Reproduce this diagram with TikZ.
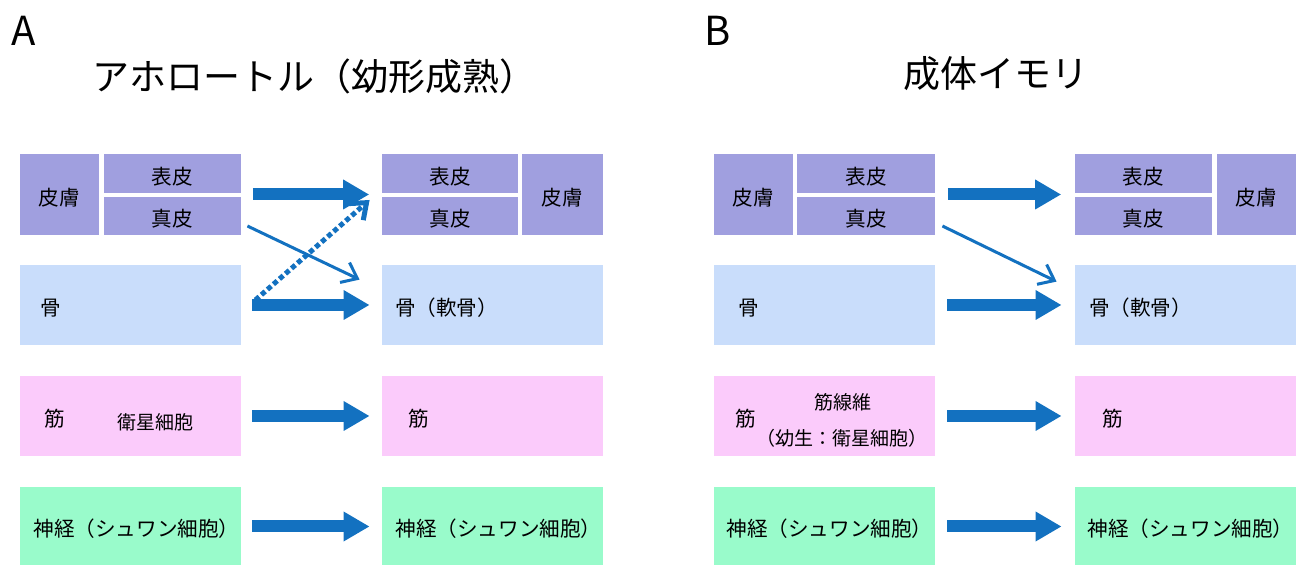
\documentclass[tikz,border=0pt]{standalone}
\usepackage{fontspec}
\setmainfont{Noto Sans CJK JP}
\usetikzlibrary{arrows.meta,fit,calc}
\definecolor{skinc}{HTML}{A09FDF}
\definecolor{bonec}{HTML}{C9DDFB}
\definecolor{muscc}{HTML}{FBCBFB}
\definecolor{nervc}{HTML}{99FBCB}
\definecolor{arrc}{HTML}{1371C0}
\begin{document}
\begin{tikzpicture}[x=0.5pt,y=-0.5pt,
  box/.style={inner sep=0pt, draw=none},
  lbl/.style={inner sep=0pt, font=\fontsize{10.3pt}{12pt}\selectfont},
  small/.style={inner sep=0pt, font=\fontsize{9.5pt}{11pt}\selectfont},
  ttl/.style={inner sep=0pt, font=\fontsize{18.5pt}{21pt}\selectfont},
  letter/.style={inner sep=0pt, font=\fontsize{20pt}{23pt}\selectfont},
  grp/.style={inner sep=0pt, draw=none},
  fat/.style={draw=arrc, line width=6pt, -{Triangle[length=13pt,width=14pt]}},
  thin/.style={draw=arrc, line width=1.5pt, -{Straight Barb[length=7pt,width=11pt]}},
  dots/.style={draw=arrc, line width=2.5pt, dash pattern=on 2.5pt off 1.5pt, -{Straight Barb[length=7pt,width=11pt]}}
]
\useasboundingbox (0,0) rectangle (1301,565);

% ---------- Panel A ----------
\node[letter] (A) at (24,31) {A};
\node[ttl] (titleA) at (314,76) {アホロートル（幼形成熟）};

% left column
\node[box, fill=skinc, fit={(20,154)(99,235)}] (AskinL) {};
\node[box, fill=skinc, fit={(104,154)(241,193)}] (AepiL) {};
\node[box, fill=skinc, fit={(104,197)(241,235)}] (AderL) {};
\node[grp, fit=(AskinL)(AepiL)(AderL)] (Arow1L) {};
\node[box, fill=bonec, fit={(20,265)(241,345)}] (AboneL) {};
\node[box, fill=muscc, fit={(20,376)(241,456)}] (AmusL) {};
\node[box, fill=nervc, fit={(20,487)(241,566)}] (AnerL) {};
\node[lbl] (AskinLt) at ($(AskinL.center)+(0,3)$) {皮膚};
\node[lbl] (AepiLt) at ($(AepiL.center)+(0,3)$) {表皮};
\node[lbl] (AderLt) at ($(AderL.center)+(0,3)$) {真皮};
\node[lbl] (AnerLt) at ($(AnerL.center)+(6,2)$) {神経（シュワン細胞）};
\node[lbl, anchor=west] (AboneLt) at ($(AboneL.west)+(20,3)$) {骨};
\node[lbl, anchor=west] (AmusLt) at ($(AmusL.west)+(24,3)$) {筋};
\node[small] (AsatL) at (155,422) {衛星細胞};

% right column
\node[box, fill=skinc, fit={(382,154)(518,193)}] (AepiR) {};
\node[box, fill=skinc, fit={(382,197)(518,235)}] (AderR) {};
\node[box, fill=skinc, fit={(522,154)(603,235)}] (AskinR) {};
\node[grp, fit=(AskinR)(AepiR)(AderR)] (Arow1R) {};
\node[box, fill=bonec, fit={(382,265)(603,345)}] (AboneR) {};
\node[box, fill=muscc, fit={(382,376)(603,456)}] (AmusR) {};
\node[box, fill=nervc, fit={(382,487)(603,566)}] (AnerR) {};
\node[lbl] (AskinRt) at ($(AskinR.center)+(0,3)$) {皮膚};
\node[lbl] (AepiRt) at ($(AepiR.center)+(0,3)$) {表皮};
\node[lbl] (AderRt) at ($(AderR.center)+(0,3)$) {真皮};
\node[lbl] (AnerRt) at ($(AnerR.center)+(6,2)$) {神経（シュワン細胞）};
\node[lbl, anchor=west] (AboneRt) at ($(AboneR.west)+(13,3)$) {骨（軟骨）};
\node[lbl, anchor=west] (AmusRt) at ($(AmusR.west)+(26,3)$) {筋};

% arrows A
\draw[fat] ($(Arow1L.east)+(11,0)$) -- ($(Arow1R.west)+(-12,0)$);
\draw[fat] ($(AboneL.east)+(11,0)$) -- ($(AboneR.west)+(-12,0)$);
\draw[fat] ($(AmusL.east)+(11,0)$) -- ($(AmusR.west)+(-12,0)$);
\draw[fat] ($(AnerL.east)+(11,0)$) -- ($(AnerR.west)+(-12,0)$);
\draw[thin] ($(AderL.east)+(6,10)$) -- ($(AboneR.north west)+(-22,15)$);
\draw[dots] ($(AboneL.east)+(14,-5)$) -- ($(AderR.west)+(-12,-16)$);

% ---------- Panel B ----------
\node[letter] (B) at (718,31) {B};
\node[ttl] (titleB) at (996,74) {成体イモリ};

% left column
\node[box, fill=skinc, fit={(714,154)(793,235)}] (BskinL) {};
\node[box, fill=skinc, fit={(797,154)(935,193)}] (BepiL) {};
\node[box, fill=skinc, fit={(797,197)(935,235)}] (BderL) {};
\node[grp, fit=(BskinL)(BepiL)(BderL)] (Brow1L) {};
\node[box, fill=bonec, fit={(714,265)(935,345)}] (BboneL) {};
\node[box, fill=muscc, fit={(714,376)(935,456)}] (BmusL) {};
\node[box, fill=nervc, fit={(714,487)(935,566)}] (BnerL) {};
\node[lbl] (BskinLt) at ($(BskinL.center)+(0,3)$) {皮膚};
\node[lbl] (BepiLt) at ($(BepiL.center)+(0,3)$) {表皮};
\node[lbl] (BderLt) at ($(BderL.center)+(0,3)$) {真皮};
\node[lbl] (BnerLt) at ($(BnerL.center)+(5,2)$) {神経（シュワン細胞）};
\node[lbl, anchor=west] (BboneLt) at ($(BboneL.west)+(24,3)$) {骨};
\node[lbl, anchor=west] (BmusLt) at ($(BmusL.west)+(21,3)$) {筋};
\node[small] (BfibL) at (843,402) {筋線維};
\node[small] (BlarL) at (842,438) {（幼生：衛星細胞）};

% right column
\node[box, fill=skinc, fit={(1075,154)(1212,193)}] (BepiR) {};
\node[box, fill=skinc, fit={(1075,197)(1212,235)}] (BderR) {};
\node[box, fill=skinc, fit={(1217,154)(1296,235)}] (BskinR) {};
\node[grp, fit=(BskinR)(BepiR)(BderR)] (Brow1R) {};
\node[box, fill=bonec, fit={(1075,265)(1296,345)}] (BboneR) {};
\node[box, fill=muscc, fit={(1075,376)(1296,456)}] (BmusR) {};
\node[box, fill=nervc, fit={(1075,487)(1296,566)}] (BnerR) {};
\node[lbl] (BskinRt) at ($(BskinR.center)+(0,3)$) {皮膚};
\node[lbl] (BepiRt) at ($(BepiR.center)+(0,3)$) {表皮};
\node[lbl] (BderRt) at ($(BderR.center)+(0,3)$) {真皮};
\node[lbl] (BnerRt) at ($(BnerR.center)+(5,2)$) {神経（シュワン細胞）};
\node[lbl, anchor=west] (BboneRt) at ($(BboneR.west)+(14,3)$) {骨（軟骨）};
\node[lbl, anchor=west] (BmusRt) at ($(BmusR.west)+(27,3)$) {筋};

% arrows B
\draw[fat] ($(Brow1L.east)+(12,0)$) -- ($(Brow1R.west)+(-13,0)$);
\draw[fat] ($(BboneL.east)+(12,0)$) -- ($(BboneR.west)+(-13,0)$);
\draw[fat] ($(BmusL.east)+(12,0)$) -- ($(BmusR.west)+(-13,0)$);
\draw[fat] ($(BnerL.east)+(12,0)$) -- ($(BnerR.west)+(-13,0)$);
\draw[thin] ($(BderL.east)+(7,10)$) -- ($(BboneR.north west)+(-18,17)$);
\end{tikzpicture}
\end{document}
